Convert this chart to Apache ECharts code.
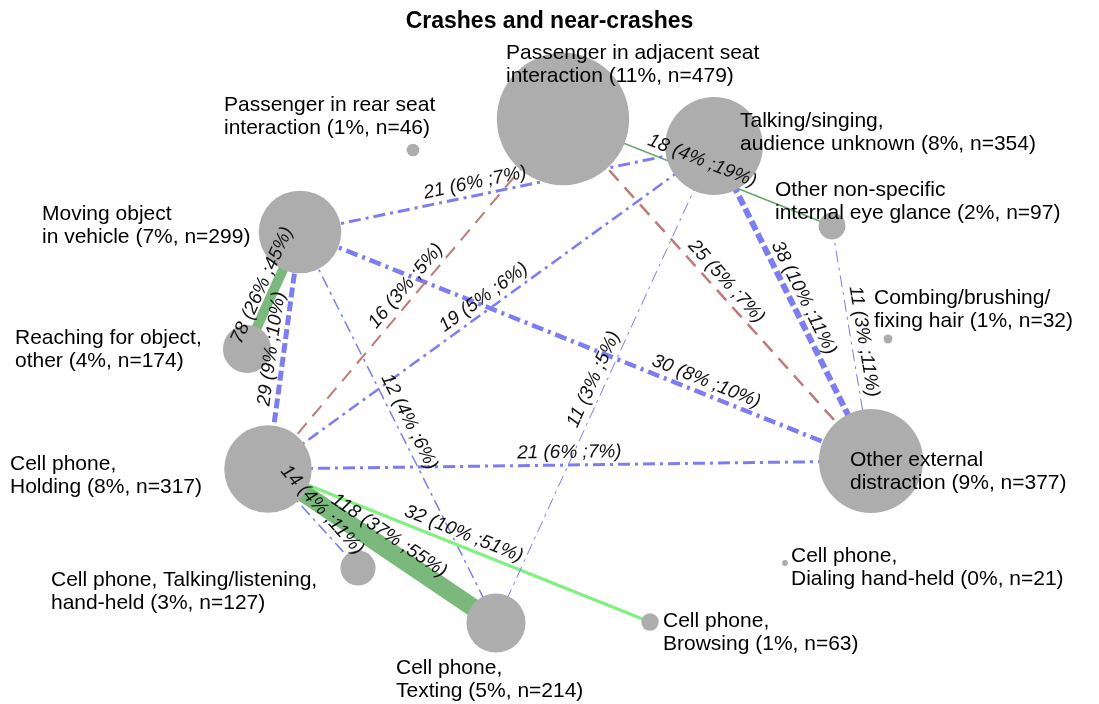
<!DOCTYPE html>
<html>
<head>
<meta charset="utf-8">
<title>Crashes and near-crashes</title>
<script src="https://cdn.jsdelivr.net/npm/echarts@6/dist/echarts.min.js"></script>
<style>
  html, body { margin: 0; padding: 0; background: #fff; }
  #chart { width: 1099px; height: 704px; }
</style>
</head>
<body>
<div id="chart"></div>
<script>
// nodes
var nodeNames = [
  'Passenger in adjacent seat\ninteraction',
  'Talking/singing,\naudience unknown',
  'Passenger in rear seat\ninteraction',
  'Other non-specific\ninternal eye glance',
  'Moving object\nin vehicle',
  'Combing/brushing/\nfixing hair',
  'Reaching for object,\nother',
  'Other external\ndistraction',
  'Cell phone,\nHolding',
  'Cell phone, Talking/listening,\nhand-held',
  'Cell phone,\nDialing hand-held',
  'Cell phone,\nBrowsing',
  'Cell phone,\nTexting'
];
var nodeCount = [479, 354, 46, 97, 299, 32, 174, 377, 317, 127, 21, 63, 214];
var nodePct = [11, 8, 1, 2, 7, 1, 4, 9, 8, 3, 0, 1, 5];
// layout of the network (units of the hidden axes)
var layoutX = [563, 714, 413, 832, 300, 888, 247, 871, 268, 358, 785, 650, 496];
var layoutY = [119, 146, 150, 226, 232, 339, 349, 461, 469, 568, 563, 622, 623];

// edges
var edgeSource = [0, 4, 4, 4, 4, 4, 8, 8, 8, 8, 8, 8, 12, 0, 1, 3];
var edgeTarget = [3, 1, 7, 6, 8, 12, 0, 1, 7, 9, 12, 11, 1, 7, 7, 7];
var edgeCount = [18, 21, 30, 78, 29, 12, 16, 19, 21, 14, 118, 32, 11, 25, 38, 11];
var edgePctA = [4, 6, 8, 26, 9, 4, 3, 5, 6, 4, 37, 10, 3, 5, 10, 3];
var edgePctB = [19, 7, 10, 45, 10, 6, 5, 6, 7, 11, 55, 51, 5, 7, 11, 11];

// look of each edge
var edgeKind = ['thinGreen', 'dashdot', 'dashdot', 'green', 'dashed', 'dashdot', 'brown', 'dashdot',
  'dashdot', 'dashdot', 'green', 'lightGreen', 'dashdot', 'brown', 'dashed', 'dashdot'];
var edgeWidth = [1.8, 3, 4.5, 10, 5, 1.5, 2, 2.5, 3, 1.5, 18, 3, 1, 2.5, 6, 1];
var kindStyle = {
  green: { color: '#7bb87b', type: 'solid' },
  thinGreen: { color: '#6aaa6a', type: 'solid' },
  lightGreen: { color: '#80f080', type: 'solid' },
  dashed: { color: '#7d7df2', type: [10, 4] },
  dashdot: { color: '#7d7df2', type: [12, 5, 3, 5] },
  brown: { color: '#c07a7a', type: [14, 9] }
};
// node label placement (box top-left relative to node centre)
var labelOffset = [[-57, -77], [26, -36], [-189, -56], [-57, -47], [-258, -29], [-14, -52], [-232, -22],
  [-21, -12], [-258, -16], [-307, 1], [6, -18], [13, -12], [-100, 34]];
// extra shift of a few edge labels along their line
var edgeLabelPad = { 1: [0, 60, 0, 0], 2: [0, 0, 0, 250] };

var FONT = '"Liberation Sans", Arial, Helvetica, sans-serif';

var nodes = nodeNames.map(function (name, i) {
  return {
    name: 'n' + i,
    value: [layoutX[i], layoutY[i]],
    symbolSize: nodeCount[i] / 3.62,
    label: {
      show: true,
      position: 'inside',
      align: 'left',
      verticalAlign: 'top',
      offset: labelOffset[i],
      formatter: name + ' (' + nodePct[i] + '%, n=' + nodeCount[i] + ')'
    }
  };
});

var links = edgeSource.map(function (s, i) {
  var st = kindStyle[edgeKind[i]];
  var lab = {
    show: true,
    formatter: edgeCount[i] + ' (' + edgePctA[i] + '% ;' + edgePctB[i] + '%)'
  };
  if (edgeLabelPad[i]) lab.padding = edgeLabelPad[i];
  return {
    source: s,
    target: edgeTarget[i],
    lineStyle: { color: st.color, type: st.type, width: edgeWidth[i], opacity: 1, curveness: 0 },
    label: lab
  };
});

var dom = document.getElementById('chart');
var myChart = echarts.init(dom);
myChart.setOption({
  animation: false,
  backgroundColor: '#fff',
  title: {
    text: 'Crashes and near-crashes',
    left: 'center',
    top: 5,
    textStyle: { fontFamily: FONT, fontSize: 23, fontWeight: 'bold', color: '#000' }
  },
  grid: { left: 0, right: 0, top: 0, bottom: 0 },
  xAxis: { type: 'value', min: 0, max: 1099, show: false },
  yAxis: { type: 'value', min: 0, max: 704, inverse: true, show: false },
  series: [
    {
      type: 'graph',
      coordinateSystem: 'cartesian2d',
      symbol: 'circle',
      itemStyle: { color: '#adadad' },
      label: {
        fontFamily: FONT,
        fontSize: 21,
        lineHeight: 23,
        color: '#000'
      },
      edgeLabel: {
        show: true,
        position: 'middle',
        distance: 3,
        fontFamily: FONT,
        fontSize: 19,
        fontStyle: 'italic',
        color: '#111'
      },
      emphasis: { disabled: true },
      data: nodes,
      links: links
    }
  ]
});
</script>
</body>
</html>
